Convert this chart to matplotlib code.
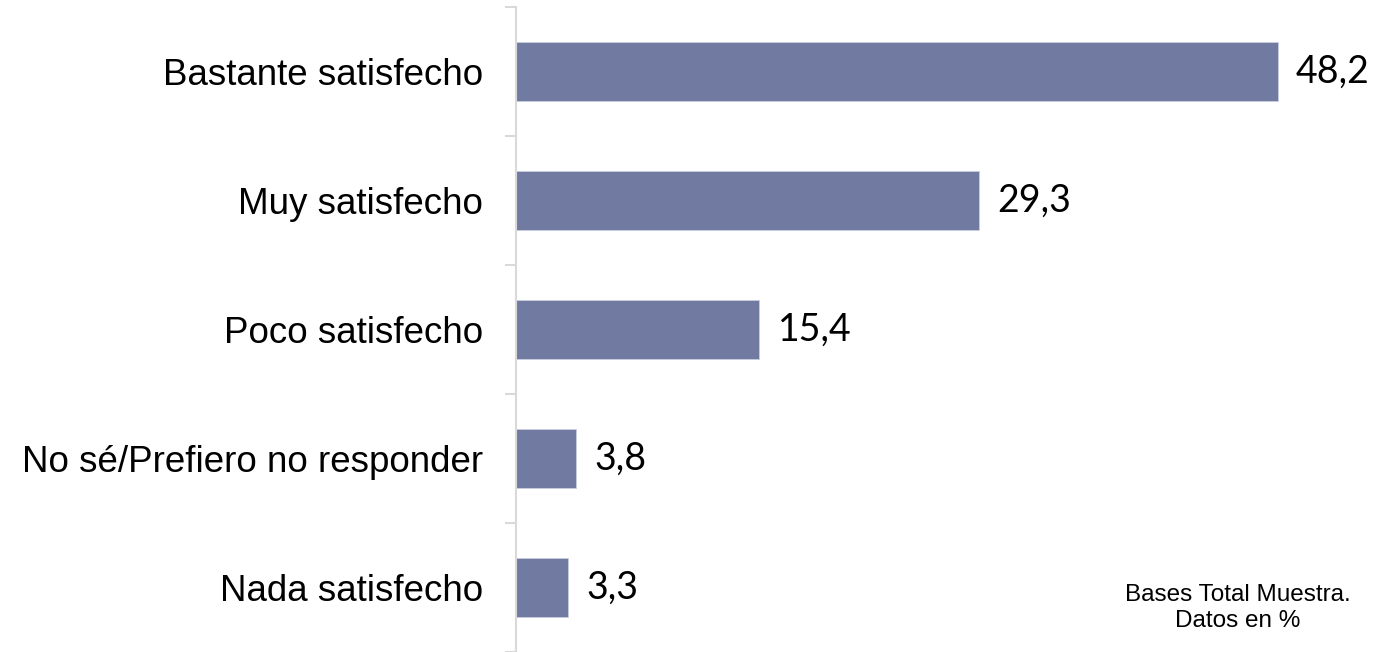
import numpy as np
import matplotlib.pyplot as plt

categories = ["Bastante satisfecho", "Muy satisfecho", "Poco satisfecho",
              "No sé/Prefiero no responder", "Nada satisfecho"]
values = [48.2, 29.3, 15.4, 3.8, 3.3]
value_labels = ["48,2", "29,3", "15,4", "3,8", "3,3"]
note = "Bases Total Muestra.\nDatos en %"

W, H = 1382, 652
fig = plt.figure(figsize=(W / 100, H / 100), dpi=100)
ax = fig.add_axes([516 / W, 0, 1 - 516 / W, 1 - 7 / H])

y = np.arange(len(categories))
ax.barh(y, values, height=0.465, color="#717BA1", edgecolor="#C9CDE0", linewidth=0.6)
ax.set_ylim(len(categories) - 0.5, -0.5)
ax.set_xlim(0, 866 / 15.81)

for yi, v, lab in zip(y, values, value_labels):
    ax.annotate(lab, (v, yi), xytext=(13, 0), textcoords="offset points",
                va="center", ha="left", fontsize=27, family="Lato", color="black")

for s in ["top", "right", "bottom"]:
    ax.spines[s].set_visible(False)
ax.spines["left"].set_color("#D9D9D9")
ax.spines["left"].set_linewidth(1.5)

ax.set_xticks([])
ax.set_yticks(y)
ax.set_yticklabels(categories, fontsize=26.5, family="Liberation Sans")
ax.tick_params(axis="y", which="major", length=0, pad=24)
ax.set_yticks(np.arange(-0.5, len(categories) + 0.5, 1), minor=True)
ax.tick_params(axis="y", which="minor", length=8, width=1.5, color="#D9D9D9")

fig.text(1238 / W, 1 - 608 / H, note, ha="center", va="center", fontsize=17.5,
         family="Liberation Sans", linespacing=1.25)

fig.savefig("out.png", dpi=100)
